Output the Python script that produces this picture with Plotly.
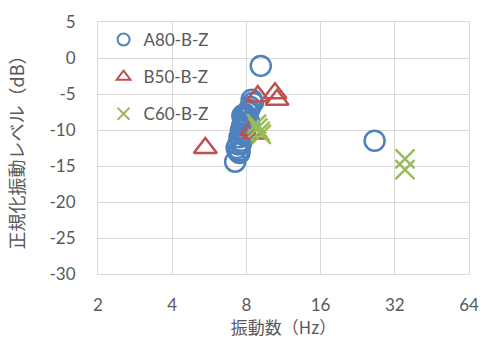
import plotly.graph_objects as go

# A80-B-Z
a80_freq = [9.15, 26.5, 7.2, 7.5, 7.3, 7.4, 7.6, 7.5, 7.7, 7.6, 7.8, 7.7, 7.9, 7.8,
            8.0, 7.9, 8.1, 8.2, 8.3, 8.5, 8.4, 7.5, 7.6, 8.0, 7.4, 7.7, 8.2, 7.9]
a80_level = [-1.1, -11.5, -14.4, -13.2, -12.5, -12.0, -11.5, -11.0, -10.5, -10.0, -9.8,
             -9.3, -9.0, -8.5, -8.2, -7.8, -7.5, -7.2, -6.8, -6.2, -5.8, -12.8, -11.9,
             -9.5, -13.0, -8.0, -8.8, -10.8]

# B50-B-Z
b50_freq = [5.45, 8.9, 10.45, 10.65, 8.4, 8.7]
b50_level = [-12.5, -5.3, -4.9, -5.8, -10.0, -10.5]

# C60-B-Z
c60_freq = [35.2, 35.2, 8.9, 9.1, 8.8, 9.2]
c60_level = [-14.0, -15.5, -9.7, -10.2, -9.2, -10.6]

x_ticks = [2, 4, 8, 16, 32, 64]
y_ticks = [5, 0, -5, -10, -15, -20, -25, -30]

BLUE = "#4F81BD"
RED = "#C0504D"
GREEN = "#9BBB59"
TEXT = "#595959"
GRID = "#D9D9D9"
CJK = "Noto Sans CJK JP"
NUM = "Lato, Noto Sans CJK JP"

fig = go.Figure()
fig.add_trace(go.Scatter(
    x=a80_freq, y=a80_level, mode="markers", name="A80-B-Z", legendgroup="a",
    marker=dict(symbol="circle-open", size=20, color=BLUE, line=dict(width=2.5)),
))
fig.add_trace(go.Scatter(
    x=b50_freq, y=b50_level, mode="markers", name="B50-B-Z", legendgroup="b",
    marker=dict(symbol="triangle-up-open", size=20, color=RED, line=dict(width=2.5)),
))
fig.add_trace(go.Scatter(
    x=c60_freq, y=c60_level, mode="markers", name="C60-B-Z", legendgroup="c",
    marker=dict(symbol="x-thin-open", size=19, color=GREEN, line=dict(width=2.5)),
))

fig.update_layout(
    width=484, height=339,
    margin=dict(l=98, r=15, t=22, b=65),
    paper_bgcolor="white", plot_bgcolor="white",
    font=dict(family=CJK, color=TEXT, size=15),
    legend=dict(
        x=0.015, y=1.0, xanchor="left", yanchor="top",
        bgcolor="rgba(255,255,255,0)", traceorder="grouped", tracegroupgap=12,
        itemsizing="constant", font=dict(family=NUM, size=17, color=TEXT),
    ),
    xaxis=dict(
        type="log", range=[0.30103, 1.80618], tickvals=x_ticks,
        ticktext=[str(v) for v in x_ticks], showgrid=True, gridcolor=GRID,
        gridwidth=1, showline=True, linecolor=GRID, linewidth=1, mirror=True,
        zeroline=False, ticks="", ticklabelstandoff=16, automargin=False,
        tickfont=dict(family=NUM, size=17, color=TEXT),
        title=dict(text="振動数（Hz）", font=dict(family=CJK, size=17, color=TEXT), standoff=2),
    ),
    yaxis=dict(
        range=[-30, 5], tickvals=y_ticks, ticktext=[str(v) for v in y_ticks],
        showgrid=True, gridcolor=GRID,
        gridwidth=1, showline=True, linecolor=GRID, linewidth=1, mirror=True,
        zeroline=False, ticks="", ticklabelstandoff=18, automargin=False,
        tickfont=dict(family=NUM, size=17, color=TEXT),
        title=dict(text="正規化振動レベル（dB）", font=dict(family=CJK, size=18, color=TEXT), standoff=20),
    ),
)

fig.write_html("out.html")
